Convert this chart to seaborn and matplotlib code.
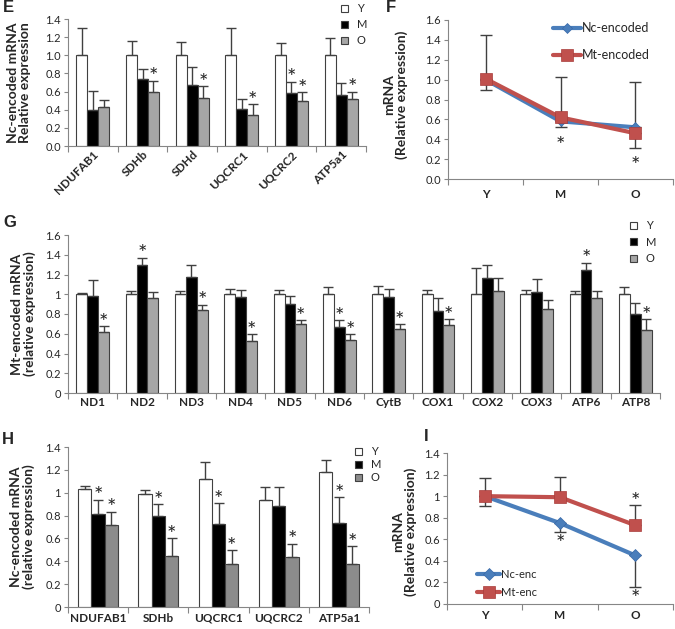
import numpy as np
import pandas as pd
import seaborn as sns
import matplotlib.pyplot as plt
from matplotlib.patches import Patch
from matplotlib.lines import Line2D
from matplotlib.ticker import FormatStrFormatter, FuncFormatter

sns.set_style("white")
plt.rcParams['font.family'] = ['Lato', 'DejaVu Sans']

ages = ["Y", "M", "O"]

# E: nuclear-encoded genes, relative expression (mean, upper SD)
e_genes = ["NDUFAB1", "SDHb", "SDHd", "UQCRC1", "UQCRC2", "ATP5a1"]
e_y = [1.0, 1.0, 1.0, 1.0, 1.0, 1.0]
e_m = [0.40, 0.74, 0.67, 0.405, 0.58, 0.567]
e_o = [0.43, 0.60, 0.53, 0.34, 0.50, 0.52]
e_y_sd = [0.30, 0.16, 0.145, 0.30, 0.14, 0.195]
e_m_sd = [0.21, 0.11, 0.20, 0.115, 0.13, 0.133]
e_o_sd = [0.08, 0.12, 0.13, 0.12, 0.09, 0.08]
e_m_sig = [0, 0, 0, 0, 1, 0]
e_o_sig = [0, 1, 1, 1, 1, 1]

# F: averaged trends
f_nc = [1.0, 0.58, 0.52]
f_mt = [1.01, 0.62, 0.46]
f_nc_sd_low = [0.10, 0.06, 0.21]
f_mt_sd_up = [0.44, 0.41, 0.52]
f_nc_sig = [0, 1, 1]
f_mt_sig = [0, 0, 0]

# G: mitochondrial-encoded genes
g_genes = ["ND1", "ND2", "ND3", "ND4", "ND5", "ND6", "CytB", "COX1", "COX2", "COX3", "ATP6", "ATP8"]
g_y = [1.0, 1.0, 1.0, 1.0, 1.0, 1.0, 1.0, 1.0, 1.0, 1.0, 1.0, 1.0]
g_m = [0.985, 1.30, 1.17, 0.97, 0.90, 0.67, 0.97, 0.83, 1.165, 1.02, 1.245, 0.80]
g_o = [0.616, 0.96, 0.84, 0.53, 0.70, 0.54, 0.65, 0.69, 1.035, 0.85, 0.96, 0.64]
g_y_sd = [0.01, 0.035, 0.035, 0.055, 0.04, 0.07, 0.08, 0.045, 0.27, 0.04, 0.035, 0.07]
g_m_sd = [0.155, 0.07, 0.13, 0.075, 0.08, 0.07, 0.08, 0.135, 0.135, 0.135, 0.075, 0.115]
g_o_sd = [0.064, 0.06, 0.055, 0.07, 0.04, 0.06, 0.05, 0.06, 0.125, 0.09, 0.075, 0.11]
g_m_sig = [0, 1, 0, 0, 0, 1, 0, 0, 0, 0, 1, 0]
g_o_sig = [1, 0, 1, 1, 1, 1, 1, 1, 0, 0, 0, 1]

# H: nuclear-encoded genes, second set
h_genes = ["NDUFAB1", "SDHb", "UQCRC1", "UQCRC2", "ATP5a1"]
h_y = [1.035, 0.985, 1.12, 0.94, 1.185]
h_m = [0.81, 0.80, 0.73, 0.88, 0.735]
h_o = [0.72, 0.45, 0.38, 0.44, 0.38]
h_y_sd = [0.025, 0.035, 0.15, 0.11, 0.105]
h_m_sd = [0.13, 0.10, 0.18, 0.17, 0.225]
h_o_sd = [0.115, 0.15, 0.12, 0.115, 0.15]
h_m_sig = [1, 1, 1, 0, 1]
h_o_sig = [1, 1, 1, 1, 1]

# I: averaged trends, second set
i_nc = [1.0, 0.75, 0.45]
i_mt = [1.0, 0.99, 0.73]
i_nc_sd_low = [0.09, 0.08, 0.29]
i_mt_sd_up = [0.165, 0.19, 0.19]
i_nc_sig = [0, 1, 1]
i_mt_sig = [0, 0, 1]

AX_GRAY = "#868686"
ERR = "#404040"
BLUE = "#4a7ebb"
RED = "#c0504d"

W, H = 675, 629
fig = plt.figure(figsize=(6.75, 6.29), dpi=100)


def px_axes(l, t, r, b):
    return fig.add_axes([l / W, 1 - b / H, (r - l) / W, (b - t) / H])


def style(ax, ymax, step, fmt, n, xpad):
    ax.set_ylim(0, ymax)
    ax.set_yticks(np.arange(0, ymax + 1e-9, step))
    ax.yaxis.set_major_formatter(fmt)
    ax.set_xlim(-0.5, n - 0.5)
    ax.set_xticks(np.arange(-0.5, n), minor=True)
    ax.tick_params(axis="x", which="major", length=0, pad=xpad, labelsize=8.5)
    ax.tick_params(axis="x", which="minor", bottom=True, length=4, width=0.8,
                   color=AX_GRAY, direction="out")
    ax.tick_params(axis="y", left=True, length=3, width=0.8, color=AX_GRAY,
                   direction="out", labelsize=8, pad=2)
    for lab in ax.get_xticklabels():
        lab.set_fontweight("bold")
    for s in ["top", "right"]:
        ax.spines[s].set_visible(False)
    for s in ["left", "bottom"]:
        ax.spines[s].set_color(AX_GRAY)
        ax.spines[s].set_linewidth(0.8)
    ax.set_xlabel("")


def star(ax, x, y, off=-2):
    ax.annotate("*", (x, y), xytext=(0, off), textcoords="offset points",
                ha="center", va="baseline", fontsize=16)


def bar_panel(ax, genes, means, sds, sigs, colors):
    rows = [(g, a, v) for a, vals in zip(ages, means) for g, v in zip(genes, vals)]
    df = pd.DataFrame(rows, columns=["gene", "age", "value"])
    sns.barplot(data=df, x="gene", y="value", hue="age", order=genes, hue_order=ages,
                palette=dict(zip(ages, colors)), saturation=1, width=0.66,
                errorbar=None, edgecolor=ERR, linewidth=0.8, legend=False, ax=ax)
    for cont, sd, sig in zip(ax.containers, sds, sigs):
        xs = np.array([p.get_x() + p.get_width() / 2 for p in cont])
        hs = np.array([p.get_height() for p in cont])
        ax.errorbar(xs, hs, yerr=[np.zeros(len(sd)), sd], fmt="none", ecolor=ERR,
                    elinewidth=1, capsize=3.5, capthick=1)
        for x, h, s, k in zip(xs, hs, sd, sig):
            if k:
                star(ax, x, h + s)


def bar_legend(x, y, colors, spacing):
    handles = [Patch(facecolor=c, edgecolor=ERR, linewidth=0.8) for c in colors]
    fig.legend(handles, ages, loc="upper left", bbox_to_anchor=(x / W, 1 - y / H),
               frameon=False, fontsize=8, handlelength=0.6, handleheight=0.6,
               handletextpad=0.8, labelspacing=spacing, borderpad=0, borderaxespad=0)


def line_panel(ax, nc, mt, nc_low, mt_up, nc_sig, mt_sig, nc_ms, mt_ms, low_off):
    xs = np.arange(len(ages))
    ax.errorbar(xs, mt, yerr=[np.zeros(3), mt_up], fmt="none", ecolor=ERR,
                elinewidth=1, capsize=4, capthick=1, zorder=1)
    ax.errorbar(xs, nc, yerr=[nc_low, np.zeros(3)], fmt="none", ecolor=ERR,
                elinewidth=1, capsize=4, capthick=1, zorder=1)
    sns.pointplot(data=pd.DataFrame({"age": ages, "value": nc}), x="age", y="value",
                  order=ages, color=BLUE, markers="D", linestyles="-", errorbar=None,
                  markersize=nc_ms, linewidth=3, markeredgewidth=0.5,
                  markeredgecolor="#3868a8", ax=ax)
    sns.pointplot(data=pd.DataFrame({"age": ages, "value": mt}), x="age", y="value",
                  order=ages, color=RED, markers="s", linestyles="-", errorbar=None,
                  markersize=mt_ms, linewidth=3, markeredgewidth=0.5,
                  markeredgecolor="#a83c3a", ax=ax)
    for x, v, s, k in zip(xs, nc, nc_low, nc_sig):
        if k:
            star(ax, x, v - s, low_off)
    for x, v, s, k in zip(xs, mt, mt_up, mt_sig):
        if k:
            star(ax, x, v + s)


def line_handles(nc_ms, mt_ms):
    return [Line2D([], [], color=BLUE, lw=3, marker="D", markersize=nc_ms,
                   markeredgecolor="#3868a8", markeredgewidth=0.5),
            Line2D([], [], color=RED, lw=3, marker="s", markersize=mt_ms,
                   markeredgecolor="#a83c3a", markeredgewidth=0.5)]


one_dec = FormatStrFormatter("%.1f")
gen = FuncFormatter(lambda v, _: f"{v:g}")
YL = dict(fontsize=10, fontweight="bold", linespacing=1.0)

# ---- E ----
axE = px_axes(68, 19, 366, 146)
bar_panel(axE, e_genes, [e_y, e_m, e_o], [e_y_sd, e_m_sd, e_o_sd],
          [[0] * 6, e_m_sig, e_o_sig], ["white", "black", "#a6a6a6"])
style(axE, 1.4, 0.2, one_dec, len(e_genes), 2)
for lab in axE.get_xticklabels():
    lab.set_rotation(45)
    lab.set_ha("right")
    lab.set_rotation_mode("anchor")
axE.set_ylabel("Nc-encoded mRNA\nRelative expression", **YL)
axE.yaxis.set_label_coords(-0.124, 0.5)
bar_legend(341, 3, ["white", "black", "#a6a6a6"], 0.45)

# ---- F ----
axF = px_axes(448, 20, 673, 179)
line_panel(axF, f_nc, f_mt, f_nc_sd_low, f_mt_sd_up, f_nc_sig, f_mt_sig, 5, 8, -17.5)
style(axF, 1.6, 0.2, one_dec, 3, 7)
axF.set_ylabel("mRNA\n(Relative expression)", **YL)
axF.yaxis.set_label_coords(-0.178, 0.53)
axF.legend(line_handles(5, 8), ["Nc-encoded", "Mt-encoded"], loc="upper left",
           bbox_to_anchor=(553 / W, 1 - 22 / H), bbox_transform=fig.transFigure,
           frameon=False, fontsize=9, handlelength=2.2, handletextpad=0.1,
           labelspacing=1.2, borderpad=0, borderaxespad=0)

# ---- G ----
axG = px_axes(68, 235, 660, 393)
bar_panel(axG, g_genes, [g_y, g_m, g_o], [g_y_sd, g_m_sd, g_o_sd],
          [[0] * 12, g_m_sig, g_o_sig], ["white", "black", "#a6a6a6"])
style(axG, 1.6, 0.2, gen, len(g_genes), 3)
axG.set_ylabel("Mt-encoded mRNA\n(relative expression)", **YL)
axG.yaxis.set_label_coords(-0.054, 0.5)
bar_legend(630, 220, ["white", "black", "#a6a6a6"], 0.5)

# ---- H ----
axH = px_axes(68, 447, 369, 607)
bar_panel(axH, h_genes, [h_y, h_m, h_o], [h_y_sd, h_m_sd, h_o_sd],
          [[0] * 5, h_m_sig, h_o_sig], ["white", "black", "#8c8c8c"])
style(axH, 1.4, 0.2, gen, len(h_genes), 4)
axH.set_ylabel("Nc-encoded mRNA\n(relative expression)", **YL)
axH.yaxis.set_label_coords(-0.11, 0.5)
bar_legend(355, 446, ["white", "black", "#8c8c8c"], 0.2)

# ---- I ----
axI = px_axes(447, 453, 673, 604)
line_panel(axI, i_nc, i_mt, i_nc_sd_low, i_mt_sd_up, i_nc_sig, i_mt_sig, 6, 8, -13.5)
style(axI, 1.4, 0.2, gen, 3, 4)
axI.set_ylabel("mRNA\n(Relative expression)", **YL)
axI.yaxis.set_label_coords(-0.133, 0.48)
axI.legend(line_handles(6, 8), ["Nc-enc", "Mt-enc"], loc="upper left",
           bbox_to_anchor=(477 / W, 1 - 569 / H), bbox_transform=fig.transFigure,
           frameon=False, fontsize=8, handlelength=2.1, handletextpad=0.1,
           labelspacing=0.6, borderpad=0, borderaxespad=0)

# panel letters
for letter, x, y in [("E", 3, 0), ("F", 386, 0), ("G", 3, 215), ("H", 2, 432), ("I", 424, 429)]:
    fig.text(x / W, 1 - y / H, letter, fontsize=12, fontweight="bold",
             family="Liberation Sans", va="top", ha="left")

fig.savefig("out.png", dpi=100, facecolor="white")
plt.close(fig)
